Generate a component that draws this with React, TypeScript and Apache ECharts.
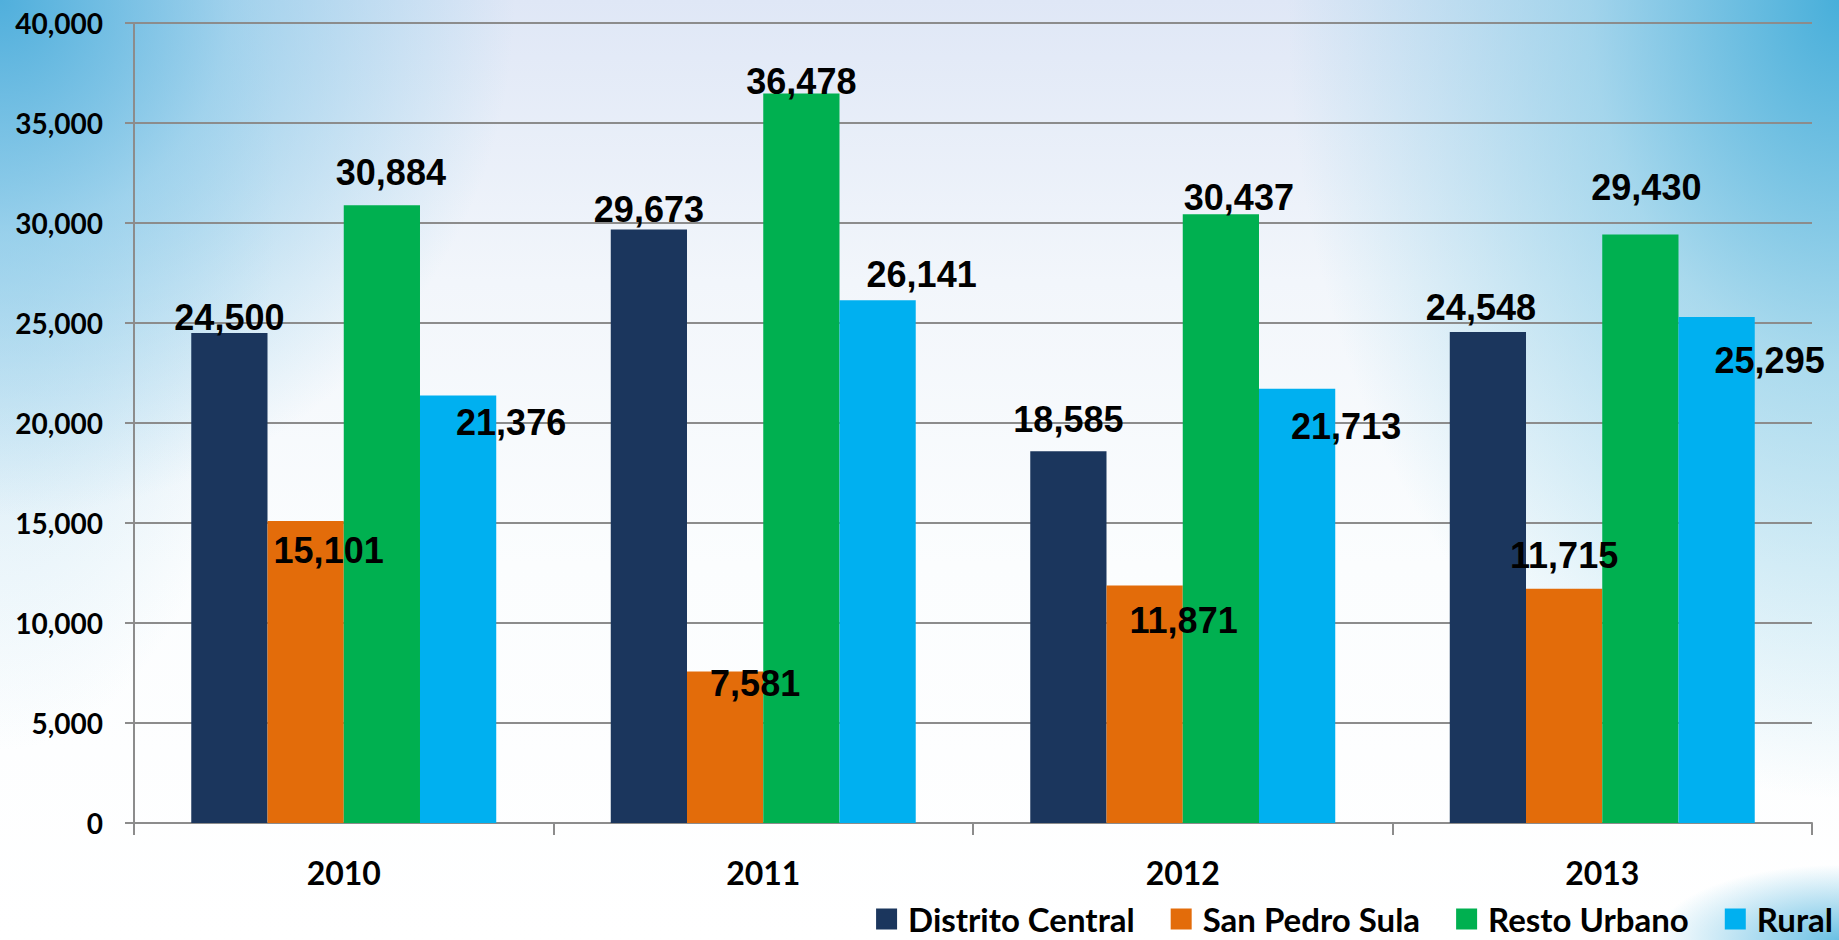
import React, { useEffect, useRef } from "react";
import * as echarts from "echarts";

const years = ["2010", "2011", "2012", "2013"];
const seriesNames = ["Distrito Central", "San Pedro Sula", "Resto Urbano", "Rural"];
const distritoCentral = [24500, 29673, 18585, 24548];
const sanPedroSula = [15101, 7581, 11871, 11715];
const restoUrbano = [30884, 36478, 30437, 29430];
const rural = [21376, 26141, 21713, 25295];
const yMin = 0;
const yMax = 40000;
const yStep = 5000;

const colors = ["#1b365d", "#e36c0a", "#00b050", "#00b0f0"];

// label placement relative to bar top: [dx, distance of label centre above bar top]
const labelPlacement = [
  [[0, 16], [0, 20], [0, 32], [-7, 25]],
  [[23, -30], [30, -12], [39, -35], [0, 33]],
  [[9, 33], [0, 12], [18, 17], [6, 47]],
  [[53, -27], [44, 26], [49, -38], [53, -43]],
];

const LABEL_FS = 36;

export default function App() {
  const ref = useRef<HTMLDivElement>(null);
  useEffect(() => {
    if (!ref.current) return;
    const chart = echarts.init(ref.current, null, { renderer: "svg" });
    const allData = [distritoCentral, sanPedroSula, restoUrbano, rural];
    const fmt = (v: number) => v.toLocaleString("en-US");
    chart.setOption({
      animation: false,
      backgroundColor: "transparent",
      grid: { left: 134, right: 27, top: 23, bottom: 117 },
      legend: {
        data: seriesNames,
        right: 6,
        top: 902,
        padding: 0,
        itemWidth: 21,
        itemHeight: 21,
        itemGap: 36,
        icon: "rect",
        textStyle: {
          fontFamily: "Lato, 'Open Sans', sans-serif",
          fontWeight: "bold",
          fontSize: 33,
          lineHeight: 34,
          color: "#000",
          padding: [0, 0, 0, 6],
        },
      },
      xAxis: {
        type: "category",
        data: years,
        axisLine: { show: true, lineStyle: { color: "#8c8c8c", width: 2 } },
        axisTick: { show: true, length: 12, lineStyle: { color: "#8c8c8c", width: 2 } },
        axisLabel: {
          margin: 33,
          fontFamily: "Lato, 'Open Sans', sans-serif",
          fontWeight: "bold",
          fontSize: 32,
          color: "#000",
        },
      },
      yAxis: {
        type: "value",
        min: yMin,
        max: yMax,
        interval: yStep,
        axisLine: { show: true, lineStyle: { color: "#8c8c8c", width: 2 } },
        axisTick: { show: true, length: 9, lineStyle: { color: "#8c8c8c", width: 2 } },
        splitLine: { show: true, lineStyle: { color: "#8c8c8c", width: 2 } },
        axisLabel: {
          margin: 31,
          formatter: (v: number) => fmt(v),
          fontFamily: "Lato, 'Open Sans', sans-serif",
          fontWeight: "bold",
          fontSize: 28,
          color: "#000",
        },
      },
      series: allData.map((d, s) => ({
        name: seriesNames[s],
        type: "bar",
        barGap: "0%",
        barCategoryGap: "27.3%",
        itemStyle: { color: colors[s] },
        data: d.map((v, i) => ({
          value: v,
          label: {
            show: true,
            position: "top",
            distance: 0,
            offset: [labelPlacement[s][i][0], LABEL_FS / 2 - labelPlacement[s][i][1]],
            formatter: () => fmt(v),
            fontFamily: "'Liberation Sans', Arial, sans-serif",
            fontWeight: "bold",
            fontSize: LABEL_FS,
            lineHeight: LABEL_FS,
            color: "#000",
          },
        })),
      })),
    });
    return () => chart.dispose();
  }, []);

  return (
    <div
      style={{
        position: "absolute",
        left: 0,
        top: 0,
        width: 1839,
        height: 940,
        background:
          "radial-gradient(ellipse 28% 55% at 0% 0%, rgba(80,175,220,1) 0%, rgba(120,195,230,0.6) 45%, rgba(160,210,235,0) 100%), " +
          "radial-gradient(ellipse 30% 85% at 100% 0%, rgba(72,175,218,1) 0%, rgba(120,198,228,0.6) 45%, rgba(160,215,235,0) 100%), " +
          "radial-gradient(ellipse 15% 60% at 0% 20%, rgba(170,215,237,0.6) 0%, rgba(170,215,237,0) 100%), " +
          "radial-gradient(ellipse 10% 8% at 100% 100%, rgba(90,185,225,0.9) 0%, rgba(90,185,225,0) 100%), " +
          "linear-gradient(180deg, #dfe7f6 0%, #f2f6fb 30%, #fbfdfe 60%, #ffffff 100%)",
      }}
    >
      <div ref={ref} style={{ width: 1839, height: 940 }} />
    </div>
  );
}
